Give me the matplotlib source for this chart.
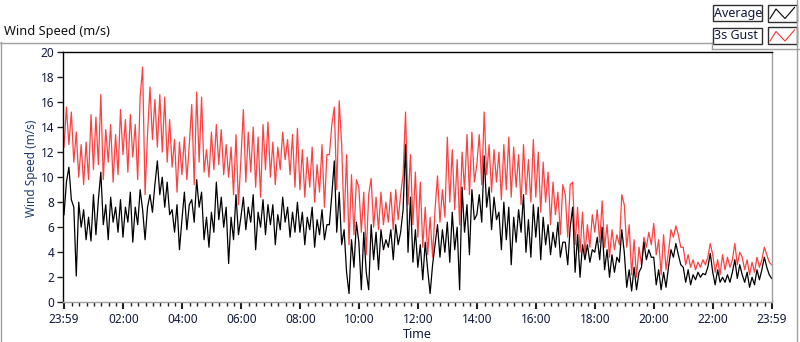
import numpy as np
import matplotlib
matplotlib.use('Agg')
import matplotlib.pyplot as plt
from matplotlib.lines import Line2D
from matplotlib.patches import Rectangle

plt.rcParams['font.family'] = ['Noto Sans', 'DejaVu Sans']

# wind speed (m/s), one reading every 5 minutes starting 23:59
gust = [
    12.4, 15.6, 12.6, 15.2, 11.2, 13.6, 10.0, 12.6, 9.4, 12.8, 9.8, 15.0,
    10.6, 14.8, 11.0, 16.6, 9.8, 13.8, 11.2, 14.2, 9.6, 13.4, 10.2, 15.4,
    11.8, 14.6, 10.4, 15.0, 11.6, 14.2, 9.8, 16.4, 18.8, 8.6, 13.4, 17.2,
    13.0, 16.2, 12.4, 16.6, 12.0, 16.4, 11.2, 14.6, 10.8, 13.0, 8.8, 12.8,
    10.2, 13.2, 9.8, 12.6, 15.8, 9.4, 16.8, 11.2, 16.4, 10.4, 12.2, 10.0,
    13.6, 10.6, 14.2, 11.0, 13.8, 10.2, 12.6, 10.0, 12.4, 8.6, 13.4, 7.8,
    11.4, 15.4, 9.6, 13.6, 10.4, 14.0, 9.2, 13.2, 8.4, 14.2, 10.6, 14.4,
    10.0, 12.8, 9.4, 12.4, 10.6, 13.6, 11.4, 13.0, 10.2, 13.4, 9.2, 13.9,
    9.0, 12.2, 8.4, 11.6, 9.2, 12.4, 8.0, 11.0, 8.8, 12.6, 7.6, 11.8,
    11.8, 14.2, 15.6, 9.0, 16.1, 12.6, 6.4, 11.8, 4.6, 10.2, 5.4, 9.8,
    9.2, 5.6, 8.8, 3.8, 8.6, 9.9, 6.0, 8.4, 5.8, 8.8, 6.2, 8.0,
    6.4, 8.8, 5.8, 9.0, 6.6, 8.6, 10.2, 15.2, 7.8, 11.8, 6.2, 10.4,
    5.2, 9.6, 4.4, 7.6, 3.8, 6.8, 3.6, 7.4, 10.1, 6.4, 9.0, 6.8,
    13.2, 8.0, 12.2, 7.4, 11.4, 6.2, 12.0, 9.0, 13.4, 8.6, 13.6, 9.6,
    11.0, 13.4, 9.4, 15.2, 10.2, 12.6, 8.8, 12.2, 9.6, 12.0, 8.2, 12.6,
    9.0, 13.2, 8.4, 12.4, 9.2, 11.8, 7.8, 12.6, 8.6, 11.4, 8.0, 13.0,
    8.4, 12.0, 7.2, 11.2, 8.0, 10.4, 6.2, 9.6, 7.0, 8.8, 5.4, 9.4,
    8.6, 5.2, 9.4, 9.6, 4.6, 7.6, 4.0, 7.2, 3.8, 6.2, 4.4, 7.0,
    5.6, 7.4, 4.8, 8.1, 4.4, 6.2, 3.6, 5.8, 4.2, 5.4, 4.6, 8.6,
    7.8, 4.4, 6.2, 2.2, 5.0, 2.0, 4.4, 3.0, 5.2, 4.4, 5.6, 4.6,
    6.3, 3.8, 5.0, 2.2, 5.4, 2.6, 4.0, 5.8, 5.2, 6.1, 5.4, 4.4,
    4.4, 3.0, 3.8, 2.8, 3.4, 2.6, 3.2, 2.8, 3.4, 3.0, 3.6, 4.7,
    3.8, 2.4, 3.4, 2.2, 3.8, 2.6, 3.6, 2.8, 3.4, 4.7, 3.0, 4.0,
    3.6, 2.6, 3.4, 2.2, 3.2, 2.4, 3.6, 2.8, 3.4, 4.4, 3.8, 3.2, 3.0,
]

average = [
    7.0, 9.6, 10.8, 8.2, 7.6, 2.1, 8.0, 6.0, 7.4, 5.0, 6.8, 4.9,
    8.6, 5.4, 8.2, 10.4, 6.2, 7.8, 5.0, 8.4, 6.4, 7.6, 5.6, 8.2,
    5.2, 7.6, 6.4, 8.8, 4.8, 7.6, 6.2, 9.0, 7.4, 5.0, 7.6, 8.6,
    7.2, 9.4, 11.3, 8.6, 10.0, 7.6, 9.6, 7.0, 7.4, 5.6, 7.8, 4.2,
    6.6, 8.8, 5.8, 7.8, 8.2, 6.4, 9.8, 7.6, 8.8, 5.0, 6.8, 4.4,
    7.2, 5.6, 9.6, 6.6, 8.4, 6.0, 7.6, 3.1, 6.8, 5.0, 8.6, 5.4,
    6.8, 8.4, 5.8, 7.6, 6.4, 8.6, 4.2, 7.2, 6.0, 8.2, 5.4, 7.8,
    6.2, 7.8, 4.6, 7.0, 5.8, 8.4, 6.4, 7.6, 5.2, 7.2, 5.6, 8.0,
    5.6, 7.2, 4.6, 6.8, 5.8, 7.6, 4.4, 6.6, 5.4, 7.4, 5.0, 6.2,
    6.2, 8.6, 11.3, 5.6, 8.8, 4.6, 5.8, 2.4, 0.7, 5.0, 2.8, 6.4,
    4.8, 1.0, 5.6, 2.4, 1.0, 6.2, 3.4, 5.6, 2.6, 5.8, 4.2, 5.0,
    4.4, 5.8, 3.4, 6.2, 4.6, 5.6, 7.4, 12.6, 4.0, 8.4, 3.2, 5.8,
    2.8, 4.6, 1.8, 4.8, 2.6, 0.7, 3.0, 4.6, 6.2, 3.6, 5.8, 4.0,
    6.4, 3.2, 7.2, 4.2, 6.0, 1.0, 9.2, 5.6, 7.8, 3.8, 9.0, 6.6,
    7.0, 8.6, 6.4, 11.7, 7.6, 9.2, 5.8, 8.4, 6.6, 7.2, 4.2, 8.0,
    5.0, 7.6, 3.0, 6.8, 4.8, 7.4, 5.6, 8.6, 4.0, 6.6, 3.6, 7.8,
    5.2, 7.6, 3.4, 6.8, 4.6, 6.2, 3.8, 5.6, 4.4, 6.4, 3.6, 4.8,
    4.8, 3.0, 6.0, 7.6, 2.4, 5.4, 2.0, 4.6, 3.4, 4.6, 3.2, 4.2,
    4.0, 5.2, 3.4, 6.0, 2.6, 4.2, 2.0, 3.8, 2.4, 3.6, 3.2, 5.8,
    4.0, 1.2, 2.6, 0.9, 2.8, 1.0, 2.4, 2.8, 4.8, 3.4, 4.2, 3.6,
    3.6, 1.4, 2.6, 1.0, 2.4, 1.2, 2.8, 4.2, 3.6, 4.7, 3.8, 3.0,
    2.8, 1.6, 2.6, 1.4, 2.2, 1.8, 2.4, 2.0, 2.3, 2.2, 2.8, 3.9,
    2.4, 1.4, 2.6, 1.6, 2.0, 1.6, 2.2, 1.6, 2.4, 3.4, 1.9, 3.0,
    2.2, 1.6, 2.4, 1.2, 2.0, 1.4, 2.6, 1.8, 2.6, 3.6, 2.8, 2.2, 1.9,
]

time_labels = ['23:59', '02:00', '04:00', '06:00', '08:00', '10:00', '12:00',
               '14:00', '16:00', '18:00', '20:00', '22:00', '23:59']
# minutes after 23:59
time_ticks = [0, 121, 241, 361, 481, 601, 721, 841, 961, 1081, 1201, 1321, 1440]

minutes = np.arange(len(gust)) * 5

W, H = 800, 342
fig = plt.figure(figsize=(W / 100, H / 100), dpi=100)


def fx(x):
    return x / W


def fy(y):
    return 1 - y / H


def hline(x0, x1, y, color='#a0a0a0', lw=1.0):
    fig.add_artist(Line2D([fx(x0), fx(x1)], [fy(y), fy(y)], color=color, lw=lw))


def vline(x, y0, y1, color='#a0a0a0', lw=1.0):
    fig.add_artist(Line2D([fx(x), fx(x)], [fy(y0), fy(y1)], color=color, lw=lw))


# outer panel frame
hline(0, 712, 42.5)
vline(0.5, 42, 342)
vline(797, 0, 342)
vline(712, 42, 48.5)
hline(712, 800, 48.5)

ax = fig.add_axes([fx(62.5), fy(302.3), (772 - 62.5) / W, 250.3 / H])
ax.plot(minutes, gust, color='#ff4040', lw=0.9)
ax.plot(minutes, average, color='black', lw=0.9)

ax.set_xlim(-3, 1440.6)
ax.set_ylim(0, 20)
ax.set_yticks(range(0, 21, 2))
ax.set_xticks(time_ticks)
ax.set_xticklabels(time_labels)
ax.set_xticks([1 + 15 * k for k in range(1, 96) if k % 8 != 0], minor=True)

for side in ['top', 'left']:
    ax.spines[side].set_color('black')
for side in ['bottom', 'right']:
    ax.spines[side].set_color('#a0a0a0')
for s in ax.spines.values():
    s.set_linewidth(1.0)

ax.tick_params(axis='y', direction='out', length=4, width=1, pad=2,
               labelsize=8.5, labelcolor='#10183a', color='#202020')
ax.tick_params(axis='x', which='major', direction='out', length=5, width=1.5,
               pad=3, labelsize=8.5, labelcolor='#10183a', color='#202020')
ax.tick_params(axis='x', which='minor', direction='out', length=3, width=1,
               color='#202020')

# axis titles
fig.text(fx(32), fy(168), 'Wind Speed (m/s)', rotation=90, ha='center', va='center',
         fontsize=8.5, color='#1f3a6e')
fig.text(fx(417), fy(335), 'Time', ha='center', va='center', fontsize=9, color='#10183a')
fig.text(fx(4), fy(31), 'Wind Speed (m/s)', ha='left', va='center', fontsize=9.2, color='#101010')

# legend
for y0, name, col in [(5, 'Average', 'black'), (27.5, '3s Gust', '#ff3030')]:
    fig.add_artist(Rectangle((fx(712.5), fy(y0 + 16)), 49 / W, 16 / H, transform=fig.transFigure,
                             facecolor='white', edgecolor='#303030', lw=1))
    fig.text(fx(714), fy(y0 + 8), name, ha='left', va='center', fontsize=9, color='#10183a')
    fig.add_artist(Rectangle((fx(767.5), fy(y0 + 16.5)), 29 / W, 17 / H, transform=fig.transFigure,
                             facecolor='white', edgecolor='#303030', lw=1))
    fig.add_artist(Line2D([fx(770), fx(776), fx(785), fx(794.5)],
                          [fy(y0 + 13.5), fy(y0 + 4), fy(y0 + 13.5), fy(y0 + 2.5)],
                          color=col, lw=0.8))

fig.savefig('out.png', dpi=100)
